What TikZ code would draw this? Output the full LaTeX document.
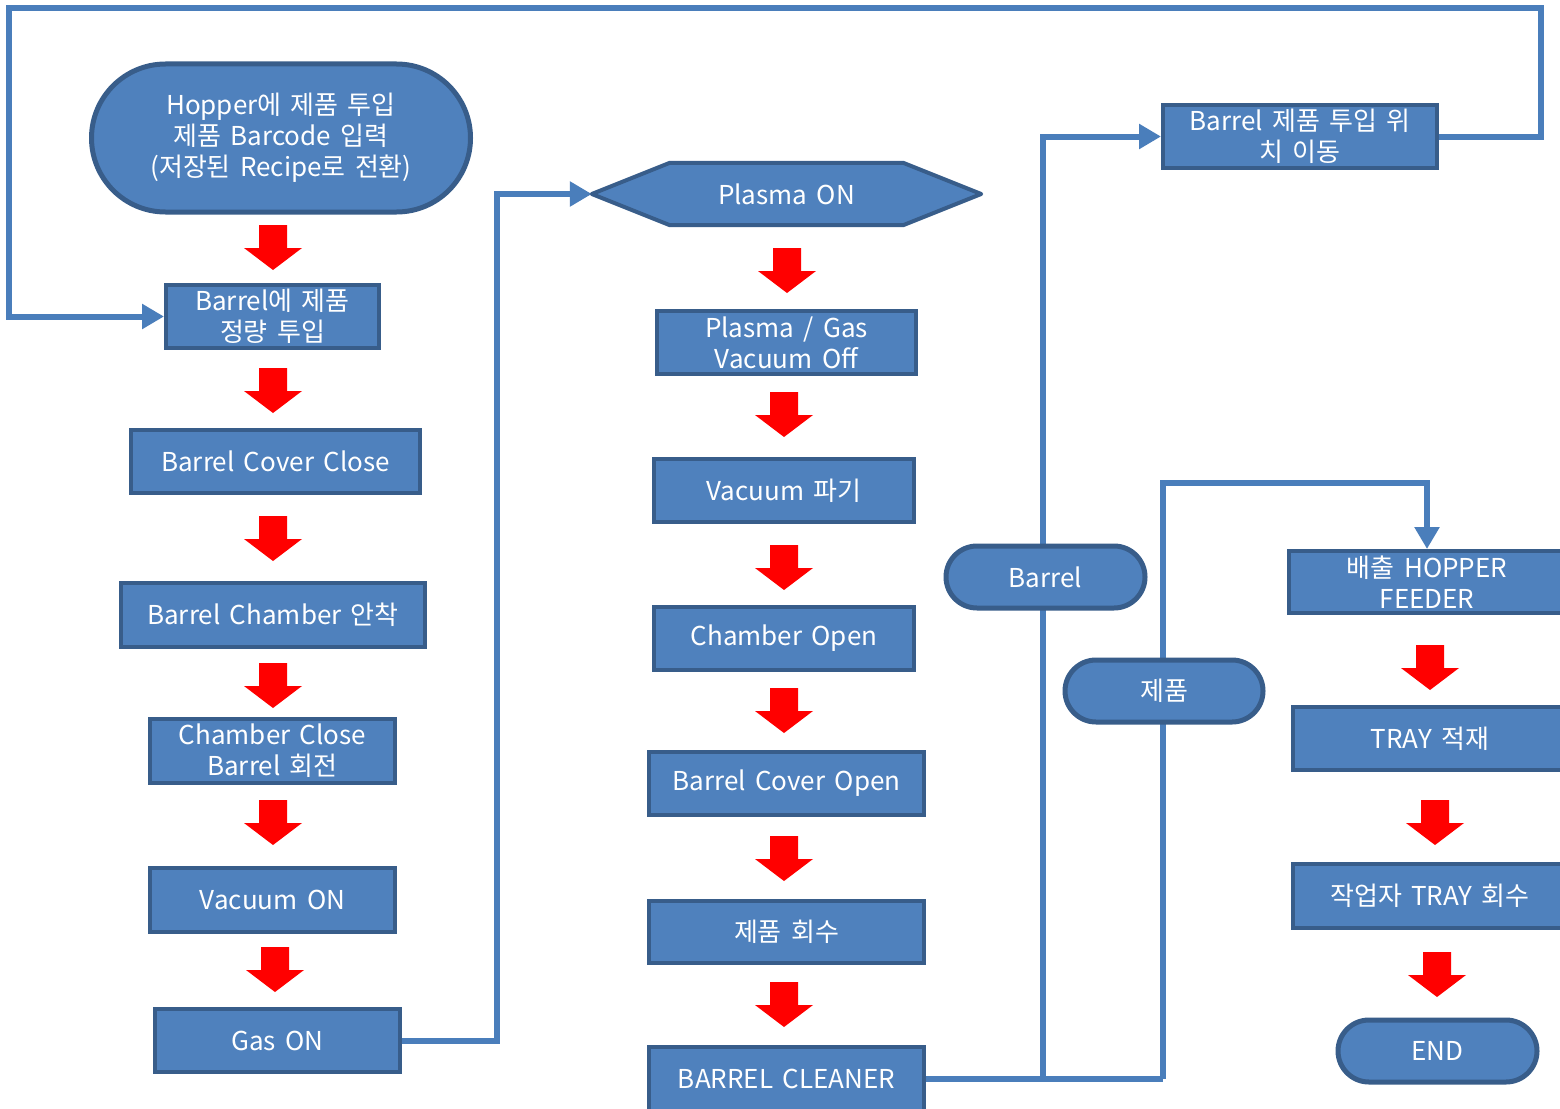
\documentclass[tikz,border=0pt]{standalone}
\usepackage{fontspec}
\setmainfont{Noto Sans CJK KR}[WordSpace=1.6]
\usetikzlibrary{arrows.meta,calc}
\definecolor{fillc}{HTML}{4F81BD}
\definecolor{bordc}{HTML}{385D8A}
\definecolor{linec}{HTML}{4A7EBB}
\pgfdeclarelayer{bg}
\pgfsetlayers{bg,main}
\newcommand\redarr[1]{\fill[red] #1 ++(-14,0) -- ++(0,23) -- ++(-15,0) -- ++(29,22) -- ++(29,-22) -- ++(-15,0) -- ++(0,-23) -- cycle;}
\begin{document}
\begin{tikzpicture}[x=1pt,y=-1pt,
  every node/.style={font=\fontsize{26}{31}\selectfont, text=white, align=center, inner sep=0pt},
  stepbox/.style={rectangle, draw=bordc, line width=4pt, fill=fillc},
  term/.style={rectangle, draw=bordc, line width=5pt, fill=fillc, rounded corners=31pt},
  conn/.style={draw=linec, line width=6pt},
  tip/.style={-{Triangle[length=22pt,width=24pt]}}]
\clip (0,0) rectangle (1560,1108);
% left column
\node[term, rounded corners=74pt, minimum width=379pt, minimum height=148pt] (start) at (281,138) {Hopper에 제품 투입\\제품 Barcode 입력\\(저장된 Recipe로 전환)};
\node[stepbox, minimum width=213pt, minimum height=63pt] (b1) at (272.5,316.5) {Barrel에 제품\\정량 투입};
\node[stepbox, minimum width=289pt, minimum height=63pt] (b2) at (275.5,461.5) {Barrel Cover Close};
\node[stepbox, minimum width=304pt, minimum height=64pt] (b3) at (273,615) {Barrel Chamber 안착};
\node[stepbox, minimum width=245pt, minimum height=64pt] (b4) at (272.5,751) {Chamber Close\\Barrel 회전};
\node[stepbox, minimum width=245pt, minimum height=64pt] (b5) at (272.5,900) {Vacuum ON};
\node[stepbox, minimum width=245pt, minimum height=63pt] (b6) at (277.5,1040.5) {Gas ON};
% middle column
\node[minimum width=389pt, minimum height=62pt] (plasma) at (786.5,194) {};
\draw[draw=bordc, line width=4pt, fill=fillc, line join=round]
  (plasma.west) -- ($(plasma.north west)+(78,0)$) -- ($(plasma.north east)+(-78,0)$) -- (plasma.east)
  -- ($(plasma.south east)+(-78,0)$) -- ($(plasma.south west)+(78,0)$) -- cycle;
\node at (plasma.center) {Plasma ON};
\node[stepbox, minimum width=259pt, minimum height=63pt] (m1) at (786.5,342.5) {Plasma / Gas\\Vacuum Off};
\node[stepbox, minimum width=260pt, minimum height=63pt] (m2) at (784,490.5) {Vacuum 파기};
\node[stepbox, minimum width=260pt, minimum height=63pt] (m3) at (784,638.5) {Chamber Open};
\node[stepbox, minimum width=275pt, minimum height=63pt] (m4) at (786.5,783.5) {Barrel Cover Open};
\node[stepbox, minimum width=275pt, minimum height=62pt] (m5) at (786.5,932) {제품 회수};
\node[stepbox, minimum width=275pt, minimum height=64pt] (cleaner) at (786.5,1079) {BARREL CLEANER};
% right side
\node[term, minimum width=199pt, minimum height=62pt] (barrel) at (1045.5,577) {Barrel};
\node[term, minimum width=198pt, minimum height=62pt] (jepum) at (1164,691) {제품};
\node[stepbox, minimum width=274pt, minimum height=63pt] (move) at (1300,136.5) {Barrel 제품 투입 위\\치 이동};
\node[stepbox, minimum width=276pt, minimum height=62pt] (feeder) at (1427,582) {배출 HOPPER\\FEEDER};
\node[stepbox, minimum width=274pt, minimum height=63pt] (tray) at (1430,738.5) {TRAY 적재};
\node[stepbox, minimum width=274pt, minimum height=64pt] (worker) at (1430,896) {작업자 TRAY 회수};
\node[term, minimum width=199pt, minimum height=62pt] (end) at (1437.5,1051) {END};
% coordinates
\coordinate (bj) at (1043,1079);
\coordinate (cj) at (1163,1079);
\coordinate (topr) at (1541,8);
\coordinate (lft) at (9,0);
% connectors
\begin{pgfonlayer}{bg}
\fill[white] (0,0) rectangle (1560,1108);
\draw[conn, tip] (b6.east) -- ++(95,0) |- (plasma.west);
\draw[conn] (cleaner.east) -- (cj);
\draw[conn, tip] (bj) |- (move.west);
\draw[conn, tip] (cj) |- ($(feeder.north)+(0,-66)$) -- (feeder.north);
\draw[conn, tip] (move.east) -| (topr) -| (b1.west -| lft) -- (b1.west);
\end{pgfonlayer}
% red block arrows
\redarr{(273,225)}
\redarr{(273,368)}
\redarr{(273,516)}
\redarr{(273,663)}
\redarr{(273,800)}
\redarr{(275,947)}
\redarr{(787,248)}
\redarr{(784,392)}
\redarr{(784,545)}
\redarr{(784,688)}
\redarr{(784,836)}
\redarr{(784,982)}
\redarr{(1430,645)}
\redarr{(1435,800)}
\redarr{(1437,952)}
\end{tikzpicture}
\end{document}
